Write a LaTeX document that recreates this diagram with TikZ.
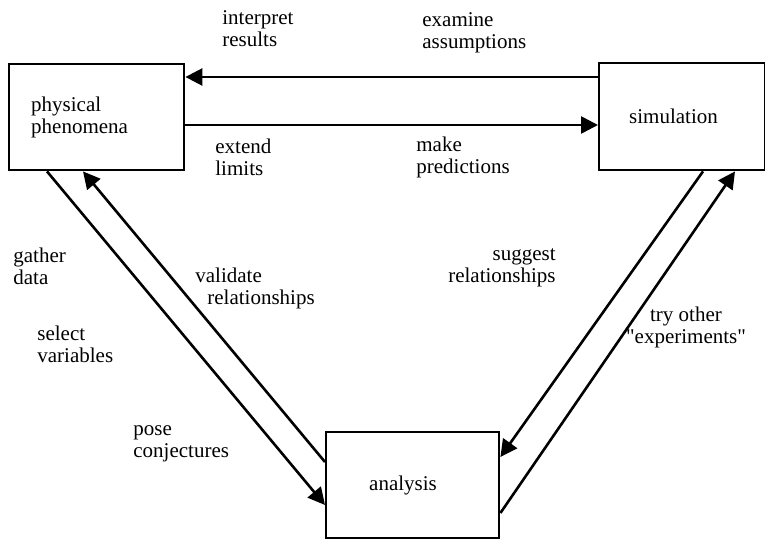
\documentclass[tikz,border=0pt]{standalone}
\usepackage{fontspec}
\setmainfont{Liberation Serif}
\usetikzlibrary{arrows.meta,calc}
\begin{document}
\begin{tikzpicture}[x=0.5pt,y=-0.5pt,
  every node/.style={font=\fontsize{10.5}{11}\selectfont},
  box/.style={draw,line width=1.2pt,rectangle,anchor=north west,align=left,inner ysep=0pt},
  note/.style={inner sep=0pt,align=left},
  flow/.style={line width=1.3pt,-{Triangle[length=8.5pt,width=8.5pt]}}]
\useasboundingbox (0,0) rectangle (765,540);

% the three stages
\node[box,minimum height=53pt,text width=65.5pt,inner xsep=11pt] (phys) at (8,63) {physical\\phenomena};
\node[box,minimum height=53.5pt,text width=53pt,inner xsep=15pt] (sim) at (598,62) {simulation};
\node[box,minimum height=53pt,text width=43.5pt,inner xsep=21.5pt] (ana) at (325,431) {analysis};

% end points of the links on the box edges
\coordinate (t1) at ($(sim.north west)+(0,15)$);
\coordinate (e1) at ($(phys.north east)+(0,62)$);
\coordinate (g1) at ($(phys.south west)+(39,0)$);
\coordinate (g2) at ($(ana.north west)+(0,74)$);
\coordinate (v1) at ($(ana.north west)+(0,31)$);
\coordinate (v2) at ($(phys.south west)+(75,0)$);
\coordinate (s1) at ($(sim.south west)+(105,0)$);
\coordinate (s2) at ($(ana.north east)+(0,26)$);
\coordinate (r1) at ($(ana.north east)+(0,82)$);
\coordinate (r2) at ($(sim.south west)+(137,0)$);

% links
\draw[flow] (t1) -- (t1 -| phys.east);
\draw[flow] (e1) -- (e1 -| sim.west);
\draw[flow] (g1) -- (g2);
\draw[flow] (v1) -- (v2);
\draw[flow] (s1) -- (s2);
\draw[flow] (r1) -- (r2);

% link labels
\node[note,anchor=west] (lint) at (222,29) {interpret\\results};
\node[note,anchor=west] (lexa) at (422,33) {examine\\assumptions};
\node[note,anchor=west] (lext) at (215,157) {extend\\limits};
\node[note,anchor=west] (lmak) at (416,157) {make\\predictions};
\node[note,anchor=west] (lgat) at (13,266) {gather\\data};
\node[note,anchor=west] (lsel) at (37,344) {select\\variables};
\node[note,anchor=west] (lpos) at (133,444) {pose\\conjectures};
\node[note,anchor=west] (lval) at (195,288) {validate\\\hspace*{6pt}relationships};
\node[note,anchor=east,align=right] (lsug) at (556,268) {suggest\\relationships};
\node[note,align=center,font=\fontsize{10.5}{11}\selectfont\addfontfeature{Ligatures=TeXOff}] (ltry) at (686,327) {try other\\"experiments"};
\end{tikzpicture}
\end{document}
